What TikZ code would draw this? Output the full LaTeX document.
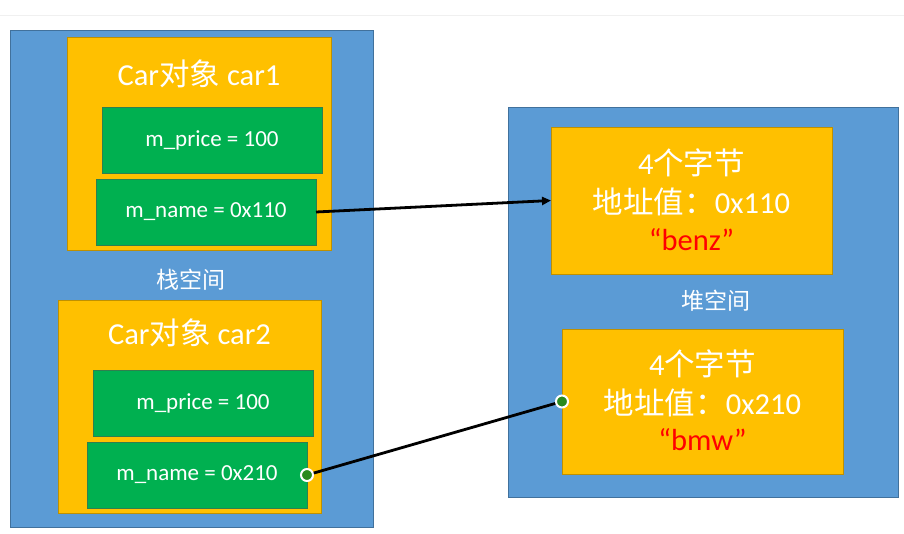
\documentclass[tikz,border=0pt]{standalone}
\usepackage{fontspec}
\setmainfont{Carlito}
\newfontfamily\cjk{Noto Sans CJK SC}
\usetikzlibrary{arrows.meta}
\definecolor{pblue}{HTML}{5B9BD5}
\definecolor{pblueline}{HTML}{41719C}
\definecolor{porange}{HTML}{FFC000}
\definecolor{porangeline}{HTML}{BF9000}
\definecolor{pgreen}{HTML}{00B050}
\definecolor{pgreenline}{HTML}{2F7F4F}
\definecolor{pred}{HTML}{FF0000}
\definecolor{hgreen}{HTML}{2A8A1E}
\tikzset{
  box/.style={rectangle, inner sep=0pt, outer sep=0pt, line width=0.8pt},
  space/.style={box, fill=pblue, draw=pblueline},
  obj/.style={box, fill=porange, draw=porangeline},
  field/.style={box, fill=pgreen, draw=pgreenline, minimum width=220pt, minimum height=66pt,
    text=white, font=\fontsize{23}{27}\selectfont},
  title/.style={text=white, inner sep=0pt, font=\fontsize{30.5}{35}\selectfont},
  heaptxt/.style={text=white, inner sep=0pt, font=\fontsize{30.5}{35}\selectfont},
  strtxt/.style={text=pred, inner sep=0pt, font=\fontsize{30.5}{35}\selectfont},
  lbl/.style={text=white, inner sep=0pt, font=\fontsize{23}{27}\selectfont},
  ptr/.style={line width=2.8pt, black},
  handle/.style={circle, fill=hgreen, draw=white, line width=2pt, minimum size=12pt, inner sep=0pt}
}
\begin{document}
\begin{tikzpicture}[x=1pt, y=-1pt]
\useasboundingbox[fill=white] (0,0) rectangle (904,533);
\draw[line width=1pt, color=black!6] (0,15) -- (904,15);
% stack
\node[space, minimum width=363pt, minimum height=497pt] (stack) at (191.5,278.5) {};
\node[obj, minimum width=264pt, minimum height=213pt] (car1) at (199,143.5) {};
\node[title] (car1t) at (199,74) {Car{\cjk 对象} car1};
\node[field] (price1) at (212,140) {m\_price = 100};
\node[field] (name1) at (206,212) {m\_name = 0x110};
\node[lbl] (stackl) at (191,280) {\cjk 栈空间};
\node[obj, minimum width=263pt, minimum height=213pt] (car2) at (189.5,406.5) {};
\node[title] (car2t) at (189.5,333) {Car{\cjk 对象} car2};
\node[field] (price2) at (203,403) {m\_price = 100};
\node[field] (name2) at (197,475) {m\_name = 0x210};
% heap
\node[space, minimum width=390pt, minimum height=390pt] (heap) at (703,302) {};
\node[obj, minimum width=281pt, minimum height=147pt] (heap1) at (691.5,200.5) {};
\node[heaptxt] (h1a) at (691.5,163) {4{\cjk 个字节}};
\node[heaptxt] (h1b) at (691.5,202) {{\cjk 地址值：}0x110};
\node[strtxt] (h1c) at (691.5,240) {“benz”};
\node[lbl] (heapl) at (716,301) {\cjk 堆空间};
\node[obj, minimum width=281pt, minimum height=145pt] (heap2) at (702.5,401.5) {};
\node[heaptxt] (h2a) at (702.5,364) {4{\cjk 个字节}};
\node[heaptxt] (h2b) at (702.5,403) {{\cjk 地址值：}0x210};
\node[strtxt] (h2c) at (702.5,440) {“bmw”};
% pointers
\draw[ptr, -{Triangle[length=9pt,width=8pt]}] (name1.east) -- (heap1.west);
\draw[ptr] (name2.east) -- (heap2.west);
\node[handle] (hs) at (name2.east) {};
\node[handle] (he) at (heap2.west) {};
\end{tikzpicture}
\end{document}
